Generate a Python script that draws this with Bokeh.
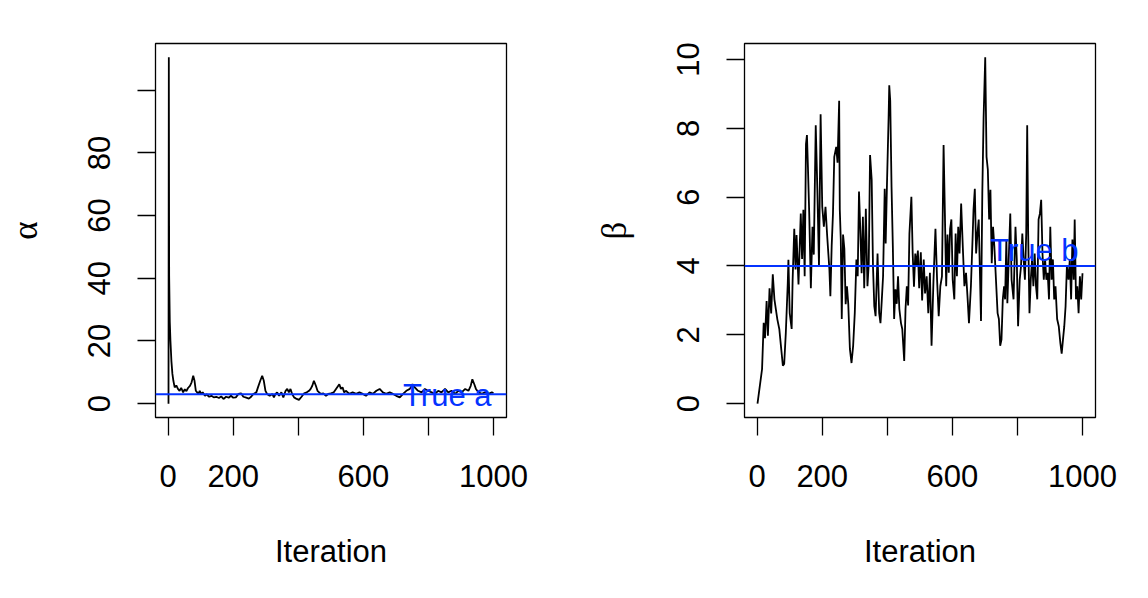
from bokeh.plotting import figure
from bokeh.layouts import row
from bokeh.models import Range1d, FixedTicker, Span, Label
from bokeh.embed import file_html
from bokeh.resources import INLINE

# ---------------- data ----------------
alpha_iter = [1, 2, 3, 5, 7, 10, 13, 16, 20, 25, 30, 35, 40, 46, 51, 56, 61, 67, 72, 77,
              81, 85, 89, 93, 97, 101, 106, 113, 118, 126, 133, 140, 148, 156, 163, 170,
              178, 186, 193, 200, 208, 216, 224, 231, 240, 248, 255, 262, 271, 276, 283,
              289, 294, 299, 304, 312, 320, 325, 330, 335, 341, 348, 354, 361, 366, 371,
              376, 381, 387, 395, 402, 410, 418, 426, 433, 438, 443, 448, 454, 459, 464,
              469, 477, 485, 492, 500, 509, 516, 526, 531, 536, 541, 546, 557, 567, 578,
              588, 598, 608, 619, 629, 640, 650, 660, 670, 681, 691, 701, 712, 722, 732,
              743, 751, 758, 768, 779, 789, 799, 810, 820, 830, 840, 851, 861, 871, 882,
              892, 902, 913, 923, 930, 935, 941, 946, 954, 964, 974, 985, 995, 1000]
alpha_val = [0.0, 110.5, 41, 26, 20, 13.5, 9.5, 7.3, 5.2, 5.8, 4.7, 4.1, 5.0, 3.6, 4.6, 4.0,
             5.0, 5.7, 6.8, 8.9, 7.3, 4.1, 3.6, 3.1, 4.1, 3.1, 3.6, 2.5, 3.0, 2.2, 2.5, 2.0,
             2.2, 1.8, 2.3, 1.5, 2.2, 1.9, 2.5, 1.9, 2.0, 3.1, 3.3, 2.2, 1.9, 1.6, 2.2, 3.1,
             3.6, 5.2, 7.3, 8.9, 7.3, 4.1, 3.1, 2.5, 3.1, 2.0, 3.1, 3.6, 2.5, 3.6, 2.0, 4.1,
             4.7, 3.6, 4.7, 3.1, 2.0, 1.5, 1.2, 2.2, 3.3, 3.6, 4.1, 4.7, 5.7, 7.3, 5.7, 4.1,
             3.6, 3.1, 3.3, 2.5, 3.1, 3.3, 3.6, 4.7, 6.2, 4.7, 5.2, 3.6, 4.1, 3.1, 3.6, 3.1,
             3.6, 3.1, 2.5, 3.6, 3.1, 4.1, 4.7, 3.6, 3.1, 3.6, 3.1, 2.5, 2.0, 3.1, 4.1, 4.7,
             6.2, 5.2, 4.1, 3.6, 4.7, 4.1, 3.6, 3.1, 4.1, 3.6, 4.7, 3.6, 4.1, 3.1, 4.1, 3.6,
             4.7, 4.1, 5.7, 7.8, 6.2, 4.7, 3.6, 3.1, 3.6, 3.1, 3.6, 3.4]

beta_iter = [1, 15, 20, 24, 29, 33, 38, 43, 48, 53, 62, 68, 73, 79, 83, 88, 94, 96, 100, 106,
             109, 114, 118, 121, 127, 134, 138, 142, 146, 150, 153, 156, 160, 165, 170, 174,
             180, 185, 190, 195, 200, 205, 210, 215, 222, 225, 229, 233, 237, 243, 247, 252,
             254, 257, 260, 264, 268, 272, 276, 280, 285, 290, 295, 300, 305, 309, 313, 317,
             321, 325, 329, 334, 339, 343, 347, 352, 356, 360, 364, 370, 375, 379, 383, 387,
             392, 395, 399, 404, 406, 409, 413, 417, 421, 425, 429, 433, 437, 442, 446, 452,
             456, 460, 464, 468, 474, 478, 482, 486, 490, 494, 498, 503, 507, 512, 516, 521,
             526, 531, 536, 542, 548, 553, 558, 563, 568, 573, 577, 581, 585, 589, 593, 597,
             601, 606, 610, 614, 618, 622, 627, 632, 637, 642, 647, 651, 657, 662, 665, 669,
             673, 677, 681, 688, 692, 696, 701, 705, 709, 713, 717, 721, 725, 729, 734, 739,
             743, 747, 751, 755, 759, 762, 766, 769, 774, 778, 782, 788, 794, 798, 802, 807,
             811, 815, 819, 823, 827, 830, 833, 837, 841, 845, 849, 853, 857, 861, 865, 869,
             873, 877, 881, 885, 889, 893, 897, 901, 905, 909, 913, 917, 922, 927, 932, 936,
             940, 944, 948, 952, 957, 961, 965, 969, 973, 976, 980, 984, 988, 992, 996, 1000]
beta_val = [0.0, 1.0, 2.35, 1.9, 2.98, 1.97, 3.35, 2.62, 3.76, 3.03, 2.45, 2.17, 1.68, 1.1,
            1.15, 2.05, 3.5, 4.18, 2.63, 2.17, 3.6, 5.08, 3.9, 4.9, 3.46, 5.52, 4.2, 5.63,
            3.7, 7.54, 7.8, 6.88, 5.52, 3.35, 5.14, 4.33, 8.09, 6.21, 3.99, 8.41, 5.72, 5.14,
            5.72, 4.9, 3.9, 3.12, 4.57, 5.52, 7.17, 7.46, 7.0, 8.8, 5.63, 4.77, 2.46, 4.91,
            4.5, 2.89, 3.41, 2.9, 1.59, 1.18, 1.68, 2.63, 4.19, 3.7, 6.16, 5.05, 3.79, 5.43,
            3.35, 5.66, 3.41, 4.07, 7.22, 6.5, 3.99, 2.83, 2.54, 4.36, 2.63, 2.34, 3.0, 3.7,
            6.24, 4.65, 6.39, 8.32, 9.25, 8.8, 6.3, 4.57, 2.46, 3.32, 2.9, 3.7, 2.75, 2.34,
            2.17, 1.24, 2.75, 3.41, 2.85, 4.94, 6.01, 4.36, 3.4, 4.36, 3.99, 4.45, 3.35, 4.4,
            3.0, 4.19, 3.2, 3.7, 2.63, 3.8, 1.68, 3.6, 5.08, 3.6, 2.54, 3.41, 3.7, 7.51, 5.52,
            3.41, 4.91, 3.8, 5.08, 5.35, 3.6, 3.03, 4.94, 3.7, 5.14, 4.36, 5.81, 4.57, 3.41,
            3.8, 3.03, 2.34, 3.41, 4.77, 5.63, 6.24, 4.36, 4.94, 5.35, 2.4, 6.1, 8.32, 10.06,
            7.17, 6.8, 5.35, 6.21, 4.08, 5.14, 4.57, 3.6, 2.63, 2.46, 1.68, 1.86, 3.03, 3.41,
            3.03, 4.77, 2.92, 4.4, 5.52, 3.6, 3.03, 5.14, 4.19, 2.25, 3.6, 3.99, 4.94, 4.19,
            3.6, 4.94, 8.09, 4.94, 2.63, 3.6, 4.19, 3.41, 4.36, 3.41, 3.03, 5.35, 5.52, 5.92,
            4.36, 3.6, 4.19, 3.6, 3.8, 3.03, 5.14, 3.6, 4.19, 3.03, 3.41, 2.46, 2.25, 1.76,
            1.45, 1.86, 2.25, 2.83, 3.99, 3.6, 4.19, 3.03, 4.77, 3.6, 5.35, 3.03, 3.41, 2.63,
            3.7, 3.03, 3.79]

true_a = 3
true_b = 4
label_a = "True a"
label_b = "True b"
label_a_pos = (858, 2.5)
label_b_pos = (852, 4.45)

x_ticks = [0, 200, 400, 600, 800, 1000]
x_hidden = [400, 800]
alpha_ticks = [0, 20, 40, 60, 80, 100]
alpha_hidden = [100]
beta_ticks = [0, 2, 4, 6, 8, 10]

BLUE = "#0433FF"
SANS = "Liberation Sans"
SERIF = "Liberation Serif"
FS = "31px"


def padded(lo, hi, frac=0.04):
    d = (hi - lo) * frac
    return Range1d(lo - d, hi + d)


def make_panel(xs, ys, yticks, yhidden, ylab, true_val, lab, lab_pos, border_left, border_right):
    p = figure(width=574, height=598,
               x_range=padded(min(xs), max(xs)),
               y_range=padded(min(ys), max(ys)),
               output_backend="svg", toolbar_location=None,
               min_border_left=border_left, min_border_right=border_right,
               min_border_top=43, min_border_bottom=181,
               background_fill_color="white", border_fill_color="white")
    p.grid.visible = False
    p.outline_line_color = "black"
    p.outline_line_width = 1.3

    p.line(xs, ys, line_color="black", line_width=1.8)
    p.add_layout(Span(location=true_val, dimension="width", line_color=BLUE, line_width=2))
    p.add_layout(Label(x=lab_pos[0], y=lab_pos[1], text=lab, text_color=BLUE,
                       text_font=SANS, text_font_size=FS,
                       text_align="center", text_baseline="middle"))

    xa = p.xaxis[0]
    xa.ticker = FixedTicker(ticks=x_ticks)
    xa.major_label_overrides = {t: "" for t in x_hidden}
    xa.axis_label = "Iteration"
    xa.axis_label_standoff = 44
    xa.major_label_standoff = 29

    ya = p.yaxis[0]
    ya.ticker = FixedTicker(ticks=yticks)
    ya.major_label_overrides = {t: "" for t in yhidden}
    ya.major_label_orientation = "vertical"
    ya.axis_label = ylab
    ya.axis_label_standoff = 41
    ya.major_label_standoff = 27

    for ax in (xa, ya):
        ax.axis_line_color = None
        ax.major_tick_line_color = "black"
        ax.major_tick_line_width = 1.3
        ax.major_tick_out = 18
        ax.major_tick_in = 0
        ax.minor_tick_line_color = None
        ax.major_label_text_font = SANS
        ax.major_label_text_font_size = FS
        ax.major_label_text_color = "black"
        ax.axis_label_text_font_size = FS
        ax.axis_label_text_font_style = "normal"
        ax.axis_label_text_color = "black"
    xa.axis_label_text_font = SANS
    ya.axis_label_text_font = SERIF
    ya.axis_label_text_font_size = "35px"
    return p


p1 = make_panel(alpha_iter, alpha_val, alpha_ticks, alpha_hidden, "α", true_a,
                label_a, label_a_pos, 155, 68)
p2 = make_panel(beta_iter, beta_val, beta_ticks, [], "β", true_b,
                label_b, label_b_pos, 170, 53)

layout = row(p1, p2)
open("out.html", "w").write(file_html(layout, INLINE))
